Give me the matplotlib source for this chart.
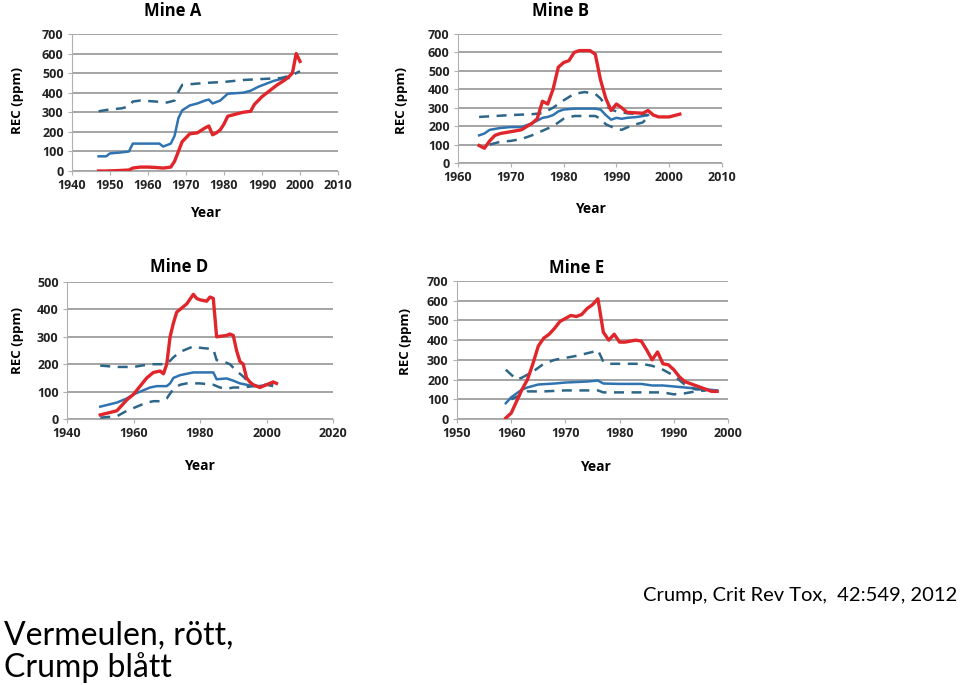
import matplotlib.pyplot as plt

# Mine A
a_red_x = [1947, 1949, 1952, 1955, 1956, 1958, 1960, 1962, 1964, 1966, 1967, 1968, 1969, 1970, 1971, 1973, 1975, 1976, 1977,
           1978, 1979, 1980, 1981, 1983, 1985, 1987, 1988, 1990, 1992, 1994, 1996, 1997, 1998, 1999, 2000]
a_red_y = [0, 0, 2, 5, 15, 20, 20, 18, 15, 20, 50, 100, 150, 170, 190, 195, 220, 230, 185,
           195, 210, 240, 280, 290, 300, 305, 340, 380, 410, 440, 465, 480, 500, 600, 560]
a_blue_x = [1947, 1949, 1950, 1953, 1955, 1956, 1960, 1963, 1964, 1966, 1967, 1968, 1969, 1971, 1973, 1975, 1976, 1977,
            1979, 1981, 1985, 1987, 1989, 1991, 1993, 1995, 1997]
a_blue_y = [75, 75, 90, 95, 100, 140, 140, 140, 125, 140, 180, 270, 310, 335, 345, 360, 365, 345,
            360, 395, 400, 410, 430, 445, 460, 470, 475]
a_dash_x = [1947, 1950, 1953, 1955, 1956, 1958, 1962, 1965, 1967, 1968, 1969, 1972, 1975, 1980, 1985, 1990, 1995, 1998, 2000]
a_dash_y = [305, 315, 320, 330, 355, 360, 355, 350, 360, 405, 440, 445, 450, 455, 465, 470, 475, 490, 510]

# Mine B
b_red_x = [1964, 1965, 1966, 1967, 1968, 1970, 1972, 1974, 1975, 1976, 1977, 1978, 1979, 1980, 1981, 1982, 1983, 1985,
           1986, 1987, 1988, 1989, 1990, 1991, 1992, 1995, 1996, 1997, 1998, 2000, 2002]
b_red_y = [95, 80, 120, 150, 160, 170, 180, 215, 240, 335, 320, 400, 520, 545, 555, 600, 610, 610,
           590, 450, 350, 285, 320, 300, 275, 270, 285, 260, 250, 250, 265]
b_blue_x = [1964, 1965, 1966, 1968, 1970, 1972, 1974, 1975, 1976, 1977, 1978, 1979, 1980, 1982, 1986, 1987, 1988, 1989,
            1990, 1991, 1992, 1994, 1996]
b_blue_y = [150, 160, 180, 190, 195, 195, 215, 230, 245, 250, 260, 280, 290, 295, 295, 290, 260, 235,
            245, 240, 245, 250, 260]
b_dash_hi_x = [1964, 1967, 1970, 1974, 1976, 1977, 1978, 1980, 1982, 1984, 1986, 1987, 1988, 1989, 1990, 1992, 1994, 1996]
b_dash_hi_y = [250, 255, 260, 265, 270, 285, 300, 340, 375, 385, 375, 350, 310, 290, 280, 270, 265, 260]
b_dash_lo_x = [1966, 1968, 1970, 1972, 1974, 1976, 1978, 1980, 1982, 1986, 1987, 1988, 1990, 1991, 1993, 1995, 1996]
b_dash_lo_y = [100, 115, 120, 130, 150, 175, 200, 240, 255, 255, 240, 210, 185, 180, 205, 220, 250]

# Mine D
d_red_x = [1950, 1955, 1958, 1960, 1962, 1964, 1966, 1968, 1969, 1970, 1971, 1972, 1973, 1976, 1978, 1979, 1980, 1982,
           1983, 1984, 1985, 1988, 1989, 1990, 1991, 1992, 1993, 1994, 1995, 1996, 1998, 2000, 2002, 2003]
d_red_y = [15, 30, 70, 90, 120, 150, 170, 175, 165, 200, 300, 350, 390, 420, 455, 440, 435, 430,
           445, 440, 300, 305, 310, 305, 250, 210, 200, 150, 135, 125, 115, 125, 135, 130]
d_blue_x = [1950, 1955, 1958, 1960, 1962, 1965, 1967, 1970, 1971, 1972, 1974, 1976, 1978, 1980, 1984, 1985, 1988, 1990,
            1992, 1994, 1996, 1998, 2000, 2002]
d_blue_y = [45, 60, 75, 90, 100, 115, 120, 120, 130, 150, 160, 165, 170, 170, 170, 145, 148, 140,
            130, 125, 120, 120, 125, 135]
d_dash_hi_x = [1950, 1955, 1960, 1965, 1970, 1972, 1974, 1976, 1978, 1980, 1984, 1985, 1987, 1989, 1991, 1993, 1995, 1997,
               2000, 2002]
d_dash_hi_y = [195, 190, 190, 200, 200, 225, 245, 255, 265, 260, 255, 215, 210, 200, 175, 155, 130, 120, 120, 130]
d_dash_lo_x = [1950, 1955, 1958, 1960, 1962, 1964, 1966, 1968, 1970, 1972, 1974, 1976, 1980, 1984, 1986, 1988, 1990, 1993,
               1996, 2000, 2002]
d_dash_lo_y = [5, 10, 30, 40, 50, 60, 65, 65, 75, 110, 125, 130, 130, 125, 115, 110, 115, 115, 120, 125, 120]

# Mine E
e_red_x = [1959, 1960, 1961, 1962, 1963, 1964, 1965, 1966, 1967, 1968, 1969, 1970, 1971, 1972, 1973, 1974, 1975, 1976,
           1977, 1978, 1979, 1980, 1981, 1983, 1984, 1985, 1986, 1987, 1988, 1989, 1990, 1991, 1992, 1993, 1995, 1996,
           1997, 1998]
e_red_y = [5, 30, 90, 150, 200, 280, 370, 410, 430, 460, 495, 510, 525, 520, 530, 560, 580, 610,
           440, 400, 430, 390, 390, 400, 395, 350, 300, 340, 280, 275, 250, 215, 190, 180, 160, 150,
           140, 140]
e_blue_x = [1959, 1960, 1961, 1962, 1963, 1965, 1968, 1970, 1974, 1976, 1977, 1980, 1984, 1986, 1988, 1990, 1992, 1994,
            1996, 1998]
e_blue_y = [80, 110, 130, 150, 160, 175, 180, 185, 190, 195, 180, 178, 178, 170, 170, 165, 160, 155, 150, 145]
e_dash_hi_x = [1959, 1961, 1962, 1964, 1966, 1968, 1972, 1975, 1976, 1977, 1978, 1980, 1984, 1986, 1988, 1990, 1992, 1994,
               1996]
e_dash_hi_y = [250, 200, 210, 240, 280, 300, 320, 340, 350, 290, 280, 280, 280, 270, 250, 220, 175, 150, 150]
e_dash_lo_x = [1960, 1962, 1963, 1966, 1970, 1976, 1977, 1980, 1984, 1988, 1990, 1992, 1994, 1996]
e_dash_lo_y = [100, 125, 140, 140, 145, 145, 135, 135, 135, 135, 125, 130, 140, 145]

red = '#e0262b'
blue = '#2f73b0'
dash = '#2d6688'

fig = plt.figure(figsize=(9.6, 6.85), dpi=100)
W, H = 960, 685
lab_font = ['Open Sans', 'DejaVu Sans']


def panel(box, title, title_xy, ylab_xy, year_xy, xlim, xstep, ylim, ystep, red_xy, blue_xy, dashes):
    l, t, r, b = box
    ax = fig.add_axes([l / W, 1 - b / H, (r - l) / W, (b - t) / H])
    ax.plot(*red_xy, color=red, lw=2.4, zorder=4)
    ax.plot(*blue_xy, color=blue, lw=1.8, zorder=3)
    for dx, dy in dashes:
        ax.plot(dx, dy, color=dash, lw=1.8, ls=(0, (4, 3)), zorder=3)
    ax.set_xlim(*xlim)
    ax.set_ylim(*ylim)
    ax.set_xticks(range(xlim[0], xlim[1] + 1, xstep))
    ax.set_yticks(range(ylim[0], ylim[1] + 1, ystep))
    ax.yaxis.grid(True, color='#8c8c8c', lw=1.1)
    ax.set_axisbelow(True)
    for s in ['top', 'right']:
        ax.spines[s].set_visible(False)
    for s in ['left', 'bottom']:
        ax.spines[s].set_color('#b0b0b0')
    ax.tick_params(axis='both', length=3, color='#b0b0b0', labelsize=9, pad=3)
    for lab in ax.get_xticklabels() + ax.get_yticklabels():
        lab.set_fontweight('bold')
        lab.set_color('#222222')
        lab.set_family(lab_font)
    fig.text(title_xy[0] / W, 1 - title_xy[1] / H, title, ha='center', va='center',
             fontsize=12, fontweight='bold', family=lab_font)
    fig.text(ylab_xy[0] / W, 1 - ylab_xy[1] / H, 'REC (ppm)', ha='center', va='center',
             rotation=90, fontsize=9.5, fontweight='bold', family=lab_font)
    fig.text(year_xy[0] / W, 1 - year_xy[1] / H, 'Year', ha='center', va='center',
             fontsize=10, fontweight='bold', family=lab_font)
    return ax


panel((72, 34, 338, 171), 'Mine A', (173, 11), (18, 100), (205, 213), (1940, 2010), 10, (0, 700), 100,
      (a_red_x, a_red_y), (a_blue_x, a_blue_y), [(a_dash_x, a_dash_y)])
panel((458, 34, 722, 163), 'Mine B', (560, 11), (401, 100), (590, 209), (1960, 2010), 10, (0, 700), 100,
      (b_red_x, b_red_y), (b_blue_x, b_blue_y), [(b_dash_hi_x, b_dash_hi_y), (b_dash_lo_x, b_dash_lo_y)])
panel((67, 282, 333, 419), 'Mine D', (179, 267), (17, 340), (199, 466), (1940, 2020), 20, (0, 500), 100,
      (d_red_x, d_red_y), (d_blue_x, d_blue_y), [(d_dash_hi_x, d_dash_hi_y), (d_dash_lo_x, d_dash_lo_y)])
panel((457, 281, 728, 419), 'Mine E', (577, 268), (406, 342), (595, 467), (1950, 2000), 10, (0, 700), 100,
      (e_red_x, e_red_y), (e_blue_x, e_blue_y), [(e_dash_hi_x, e_dash_hi_y), (e_dash_lo_x, e_dash_lo_y)])

font = ['Lato', 'DejaVu Sans']
fig.text(4 / W, 1 - 645 / H, 'Vermeulen, rött,', ha='left', va='baseline', fontsize=23, family=font)
fig.text(4 / W, 1 - 677 / H, 'Crump blått', ha='left', va='baseline', fontsize=23, family=font)
fig.text(957 / W, 1 - 601 / H, 'Crump, Crit Rev Tox,  42:549, 2012', ha='right', va='baseline',
         fontsize=14.5, family=font)

fig.savefig('out.png', dpi=100)
